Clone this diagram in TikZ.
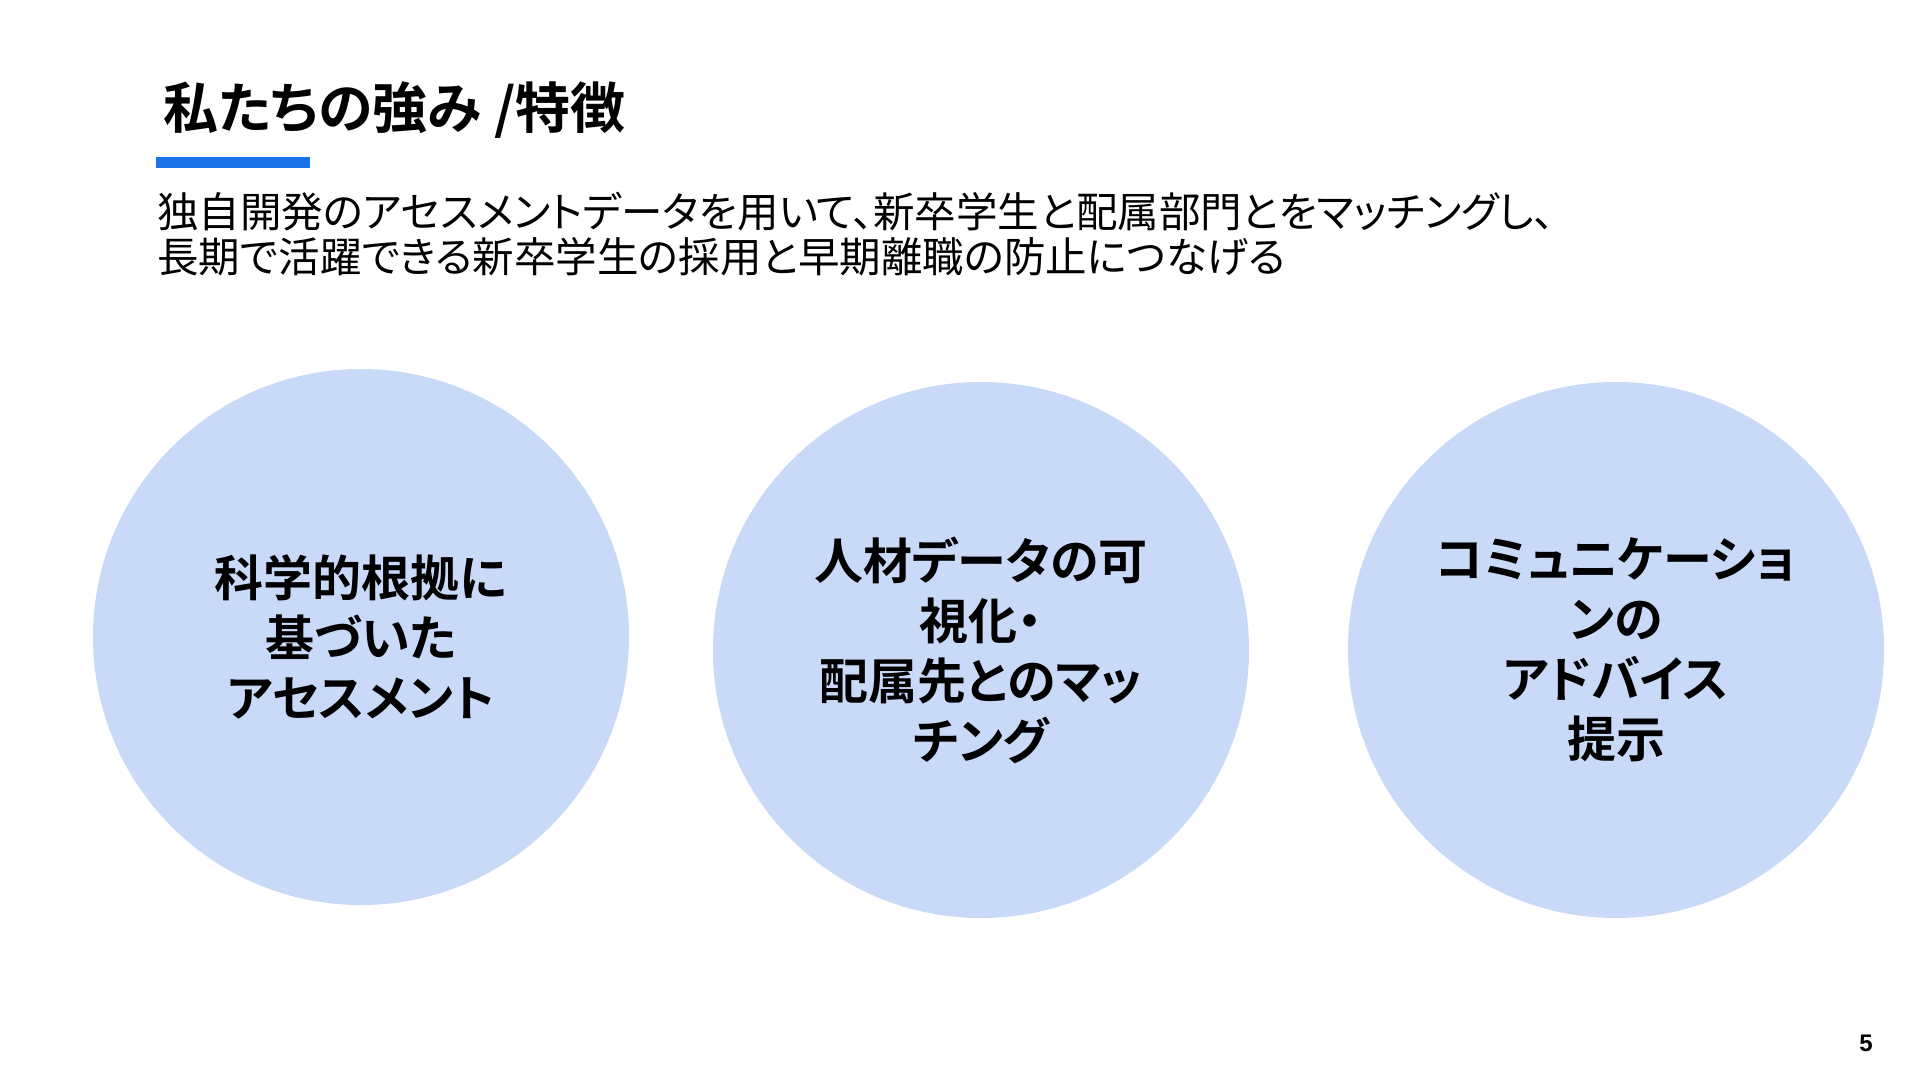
\documentclass[tikz,border=0pt]{standalone}
\usepackage{fontspec}
\setmainfont{Noto Sans CJK JP}[RawFeature={+palt}]
\newfontfamily\jpbold{Noto Sans CJK JP Bold}[RawFeature={+palt}]
\newfontfamily\numfont{Liberation Sans}
\definecolor{circfill}{HTML}{C9DAF8}
\definecolor{barblue}{HTML}{1A73E8}
\tikzset{
  feat/.style={circle, fill=circfill, minimum size=536pt, inner sep=0pt},
  feattext/.style={align=center, text=black, font=\jpbold\fontsize{49}{60}\selectfont},
  subline/.style={anchor=base west, inner sep=0pt, font=\fontsize{41.5}{45}\selectfont},
}
\begin{document}
\begin{tikzpicture}[x=1pt,y=-1pt]
\useasboundingbox (0,0) rectangle (1920,1080);
\fill[white] (0,0) rectangle (1920,1080);
% title
\node[anchor=base west, inner sep=0pt, font=\jpbold\fontsize{55}{60}\selectfont] (title) at (163,128) {私たちの強み /特徴};
\fill[barblue] (156,157) rectangle (310,168);
% subtitle
\node[subline] (sub1) at (157,227) {独自開発のアセスメントデータを用いて、新卒学生と配属部門とをマッチングし、};
\node[subline] (sub2) at (157,272) {長期で活躍できる新卒学生の採用と早期離職の防止につなげる};
% circles
\node[feat] (c1) at (361,637) {};
\node[feat] (c2) at (981,650) {};
\node[feat] (c3) at (1616,650) {};
\node[feattext] (t1) at (c1.center) {科学的根拠に\\基づいた\\アセスメント};
\node[feattext] (t2) at (c2.center) {人材データの可\\視化・\\配属先とのマッ\\チング};
\node[feattext] (t3) at (c3.center) {コミュニケーショ\\ンの\\アドバイス\\提示};
% page number
\node[font=\numfont\bfseries\fontsize{24}{24}\selectfont, inner sep=0pt] (pg) at (1866,1043) {5};
\end{tikzpicture}
\end{document}
